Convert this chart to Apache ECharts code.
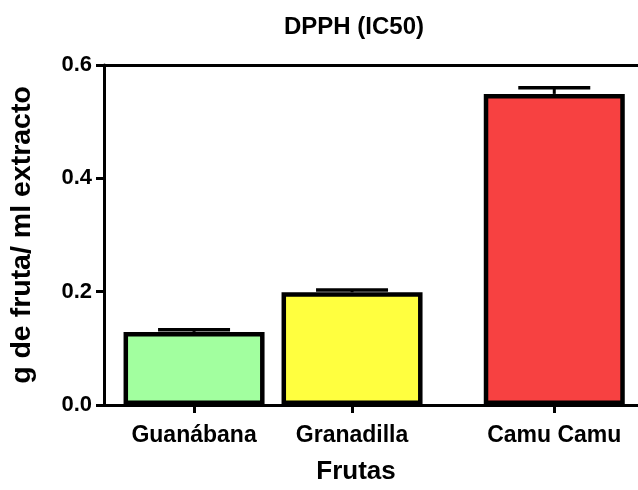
<!DOCTYPE html>
<html>
<head>
<meta charset="utf-8">
<script src="https://cdn.jsdelivr.net/npm/echarts@6/dist/echarts.min.js"></script>
<style>html,body{margin:0;padding:0;background:#fff}#c{width:638px;height:490px}</style>
</head>
<body>
<div id="c"></div>
<script>
// ---- data ----
var categories = ['Guanábana', 'Granadilla', 'Camu Camu'];
var groupPositions = [1, 2, 3.28];      // column positions on the x scale (GraphPad-style gap before Camu Camu)
var meanValues = [0.129, 0.199, 0.549];
var errorValues = [0.004, 0.004, 0.011];
var barColors = ['#A2FF9F', '#FFFF3F', '#F74141'];
var yTicks = [0, 0.2, 0.4, 0.6];

var FONT = '"Liberation Sans", Arial, sans-serif';

var barData = categories.map(function (c, i) {
  return { value: [groupPositions[i], meanValues[i]], itemStyle: { color: barColors[i] } };
});
var errData = categories.map(function (c, i) {
  return [groupPositions[i], meanValues[i], meanValues[i] + errorValues[i]];
});

var chart = echarts.init(document.getElementById('c'), null, { renderer: 'canvas' });
chart.setOption({
  animation: false,
  backgroundColor: '#fff',
  title: {
    text: 'DPPH (IC50)',
    left: 279, top: 10,
    textStyle: { fontFamily: FONT, fontWeight: 'bold', fontSize: 24, color: '#000' }
  },
  grid: { left: 101.5, right: 0, top: 65, bottom: 82, containLabel: false },
  xAxis: [{
    type: 'value', min: 0.43, max: 3.81,
    name: 'Frutas', nameLocation: 'middle', nameGap: 54,
    nameTextStyle: { fontFamily: FONT, fontWeight: 'bold', fontSize: 26, color: '#000', padding: [0, 30, 0, 0] },
    axisLine: { show: true, lineStyle: { color: '#000', width: 3 } },
    axisTick: { show: true, customValues: groupPositions, length: 8, lineStyle: { color: '#000', width: 3 } },
    axisLabel: {
      show: true, customValues: groupPositions, margin: 19,
      fontFamily: FONT, fontWeight: 'bold', fontSize: 23, color: '#000',
      formatter: function (v) {
        var i = groupPositions.indexOf(v);
        return i >= 0 ? categories[i] : '';
      }
    },
    splitLine: { show: false }
  }, {
    type: 'value', position: 'top', min: 0, max: 1,
    axisLine: { show: true, lineStyle: { color: '#000', width: 3 } },
    axisTick: { show: false }, axisLabel: { show: false }, splitLine: { show: false }
  }],
  yAxis: {
    type: 'value', min: 0, max: 0.6, interval: 0.2,
    name: 'g de fruta/ ml extracto', nameLocation: 'middle', nameGap: 67,
    nameTextStyle: { fontFamily: FONT, fontWeight: 'bold', fontSize: 28.5, color: '#000' },
    axisLine: { show: true, lineStyle: { color: '#000', width: 3 } },
    axisTick: { show: true, length: 8, lineStyle: { color: '#000', width: 3 } },
    axisLabel: {
      margin: 12, fontFamily: FONT, fontWeight: 'bold', fontSize: 22, color: '#000',
      formatter: function (v) { return v.toFixed(1); }
    },
    splitLine: { show: false }
  },
  series: [{
    type: 'bar',
    data: barData,
    barWidth: 141,
    itemStyle: { borderColor: '#000', borderWidth: 4.5 },
    z: 2
  }, {
    type: 'custom',
    data: errData,
    z: 3,
    renderItem: function (params, api) {
      var x = api.value(0);
      var top = api.coord([x, api.value(2)]);
      var mid = api.coord([x, api.value(1)]);
      var half = 36;
      return {
        type: 'group',
        children: [{
          type: 'line',
          shape: { x1: top[0], y1: top[1], x2: mid[0], y2: mid[1] },
          style: { stroke: '#000', lineWidth: 3 }
        }, {
          type: 'line',
          shape: { x1: top[0] - half, y1: top[1], x2: top[0] + half, y2: top[1] },
          style: { stroke: '#000', lineWidth: 3.5 }
        }]
      };
    }
  }]
});
</script>
</body>
</html>
